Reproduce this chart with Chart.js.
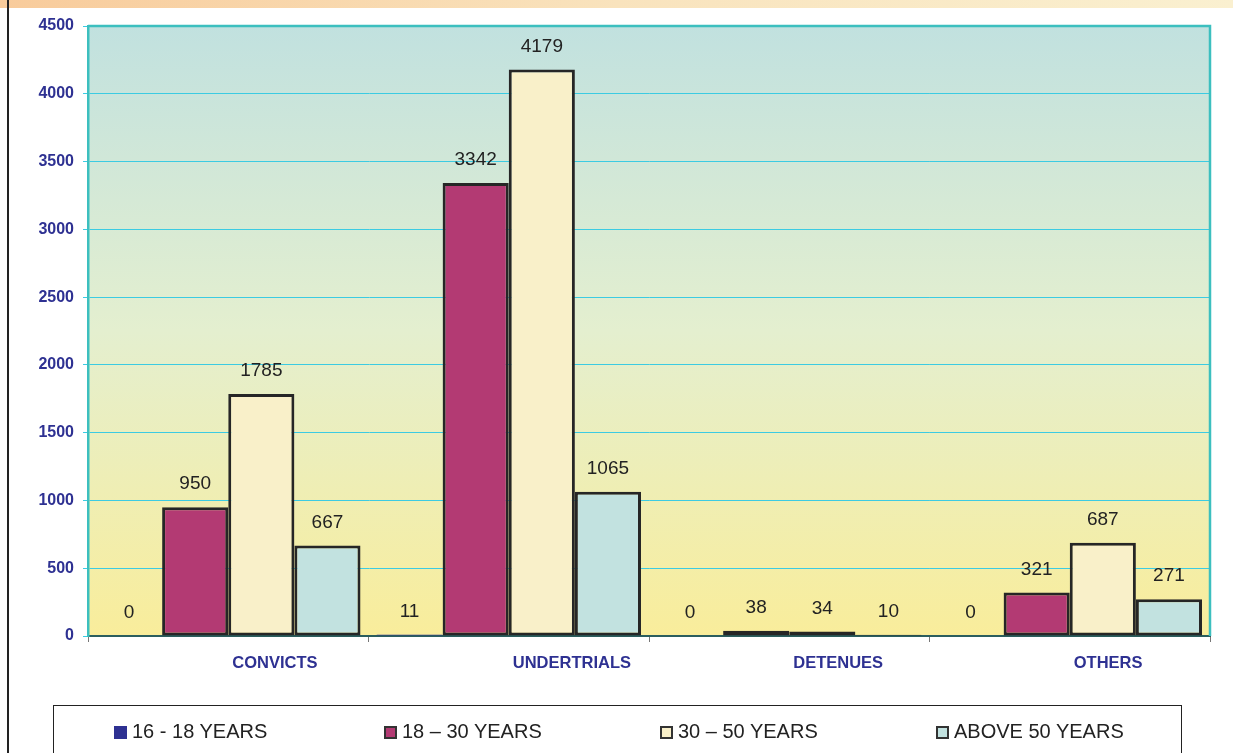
<!DOCTYPE html>
<html>
<head>
<meta charset="utf-8">
<script src="https://cdn.jsdelivr.net/npm/chart.js@4.4.1/dist/chart.umd.min.js"></script>
<style>
  body { margin: 0; background: #fff; font-family: "Liberation Sans", Arial, sans-serif; }
  #wrap { position: relative; width: 1233px; height: 753px; overflow: hidden; }
  #topstrip { position: absolute; left: 0; top: 0; width: 1233px; height: 8px;
    background: linear-gradient(to right, #f8cb9b, #f9e3bd 50%, #faf0d0); }
  #leftline { position: absolute; left: 7px; top: 0; width: 2px; height: 753px; background: #222; }
  canvas { position: absolute; left: 0; top: 0; }
  #legend { position: absolute; left: 53px; top: 705px; width: 1129px; height: 70px;
    border: 1.5px solid #222; box-sizing: border-box; }
  .item { position: absolute; top: 14px; font-size: 20px; color: #222; white-space: nowrap; line-height: 22px; }
  .box { display: inline-block; width: 13px; height: 13px; vertical-align: -1px; margin-right: 5px; box-sizing: border-box; }
</style>
</head>
<body>
<div id="wrap">
  <div id="topstrip"></div>
  <div id="leftline"></div>
  <canvas id="prisonChart" width="1233" height="753"></canvas>
  <div id="legend"></div>
</div>
<script>
// dane z wykresu
const categories = ["CONVICTS", "UNDERTRIALS", "DETENUES", "OTHERS"];
const seriesNames = ["16 - 18 YEARS", "18 \u2013 30 YEARS", "30 \u2013 50 YEARS", "ABOVE 50 YEARS"];
const age16to18 = [0, 11, 0, 0];
const age18to30 = [950, 3342, 38, 321];
const age30to50 = [1785, 4179, 34, 687];
const above50 = [667, 1065, 10, 271];
const yTicks = [0, 500, 1000, 1500, 2000, 2500, 3000, 3500, 4000, 4500];

const fillColors = ["#2e3192", "#b33a73", "#f9f0c9", "#c2e2e0"];
const seriesData = [age16to18, age18to30, age30to50, above50];

// tlo obszaru wykresu
const plotBackground = {
    id: "plotBackground",
    beforeDraw(chart) {
        const { ctx, chartArea: a } = chart;
        const g = ctx.createLinearGradient(0, a.top, 0, a.bottom);
        g.addColorStop(0, "#c1e1df");
        g.addColorStop(0.5, "#e4efcf");
        g.addColorStop(1, "#f9ed9b");
        ctx.save();
        ctx.fillStyle = g;
        ctx.fillRect(a.left, a.top, a.right - a.left, a.bottom - a.top);
        ctx.restore();
    },
    afterDraw(chart) {
        const { ctx, chartArea: a } = chart;
        ctx.save();
        ctx.strokeStyle = "#3cbfbf";
        ctx.lineWidth = 2.5;
        ctx.beginPath();
        ctx.moveTo(a.left, a.top);
        ctx.lineTo(a.right, a.top);
        ctx.lineTo(a.right, a.bottom);
        ctx.stroke();
        ctx.restore();
    }
};

// etykiety wartosci nad slupkami
const valueLabels = {
    id: "valueLabels",
    afterDatasetsDraw(chart) {
        const ctx = chart.ctx;
        ctx.save();
        ctx.font = "19px 'Liberation Sans', Arial, sans-serif";
        ctx.fillStyle = "#222";
        ctx.textAlign = "center";
        ctx.textBaseline = "middle";
        chart.data.datasets.forEach((ds, i) => {
            chart.getDatasetMeta(i).data.forEach((bar, j) => {
                ctx.fillText(String(ds.data[j]), bar.x, bar.y - 23);
            });
        });
        ctx.restore();
    }
};

const ctx = document.getElementById("prisonChart").getContext("2d");
window.prisonChartInstance = new Chart(ctx, {
    type: "bar",
    data: {
        labels: categories,
        datasets: seriesNames.map((name, i) => ({
            label: name,
            data: seriesData[i],
            backgroundColor: fillColors[i],
            borderColor: i === 0 ? "#2e3192" : "#262626",
            borderWidth: i === 0 ? 1 : 3,
            borderSkipped: false,
            categoryPercentage: 0.943,
            barPercentage: 1
        }))
    },
    options: {
        responsive: false,
        animation: false,
        layout: { padding: { left: 10, right: 23, top: 26, bottom: 67 } },
        plugins: {
            legend: { display: false },
            tooltip: { enabled: false }
        },
        scales: {
            x: {
                afterFit(scale) { scale.height = 50; },
                grid: { drawOnChartArea: false, color: "#777", tickLength: 6, offset: true },
                border: { color: "#2b5e5e", width: 2 },
                ticks: {
                    align: "start",
                    labelOffset: 4,
                    padding: 12,
                    color: "#2e3192",
                    font: { family: "'Liberation Sans', Arial, sans-serif", size: 16.5, weight: "bold" }
                }
            },
            y: {
                min: 0,
                max: 4500,
                afterFit(scale) { scale.width = 78; },
                afterBuildTicks(scale) { scale.ticks = yTicks.map(v => ({ value: v })); },
                grid: { color: "#3ccbe2", lineWidth: 1, tickLength: 5 },
                border: { color: "#3cbfbf", width: 2.5 },
                ticks: {
                    padding: 9,
                    color: "#2e3192",
                    callback: v => String(v),
                    font: { family: "'Liberation Sans', Arial, sans-serif", size: 16, weight: "bold" }
                }
            }
        }
    },
    plugins: [plotBackground, valueLabels]
});

// legenda
const legendLeft = [60, 330, 606, 882];
const legend = document.getElementById("legend");
seriesNames.forEach((name, i) => {
    const item = document.createElement("div");
    item.className = "item";
    item.style.left = legendLeft[i] + "px";
    const border = i === 0 ? "none" : "2px solid #333";
    item.innerHTML = `<span class="box" style="background:${fillColors[i]};border:${border}"></span>${name}`;
    legend.appendChild(item);
});
</script>
</body>
</html>
